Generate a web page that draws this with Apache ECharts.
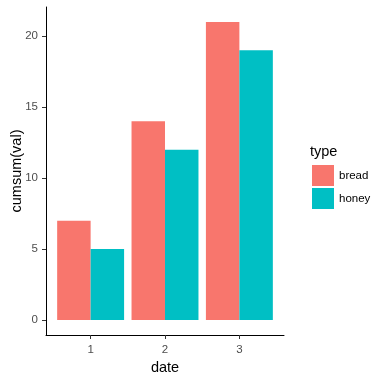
<!DOCTYPE html>
<html>
<head>
<meta charset="utf-8">
<script src="https://cdn.jsdelivr.net/npm/echarts@6/dist/echarts.min.js"></script>
<style>html,body{margin:0;padding:0;background:#fff;}#c{width:385px;height:380px;}</style>
</head>
<body>
<div id="c"></div>
<script>
const categories = [1, 2, 3];
const bread = [7, 14, 21];
const honey = [5, 12, 19];
const yTicks = [0, 5, 10, 15, 20];
const seriesNames = ['bread', 'honey'];
const colors = ['#F8766D', '#00BFC4'];

const gridLeft = 46, gridRight = 385 - 284, gridTop = 7, gridBottom = 380 - 335;
const xMin = 0.4, xMax = 3.6;
const plotW = 385 - gridLeft - gridRight;
const barW = plotW / (xMax - xMin) * 0.45;

const font = 'Liberation Sans, Arial, sans-serif';
const chart = echarts.init(document.getElementById('c'), null, {renderer: 'canvas'});
chart.setOption({
  animation: false,
  backgroundColor: '#fff',
  grid: {left: gridLeft, right: gridRight, top: gridTop, bottom: gridBottom, containLabel: false, outerBoundsMode: 'none'},
  title: {text: 'type', left: 305, top: 139, textStyle: {fontFamily: font, fontSize: 14.5, fontWeight: 'normal', color: '#000'}},
  legend: {
    orient: 'vertical', left: 307, top: 160, itemWidth: 22, itemHeight: 21, itemGap: 2,
    icon: 'rect', data: seriesNames,
    textStyle: {fontFamily: font, fontSize: 11.5, color: '#000'}
  },
  xAxis: {
    type: 'value', min: xMin, max: xMax,
    name: 'date', nameLocation: 'middle', nameGap: 24,
    nameTextStyle: {fontFamily: font, fontSize: 14.5, color: '#000'},
    axisLine: {show: true, onZero: false, lineStyle: {color: '#000', width: 1}},
    axisTick: {show: true, length: 4, customValues: categories, lineStyle: {color: '#333'}},
    axisLabel: {customValues: categories, margin: 9, fontFamily: font, fontSize: 11.5, color: '#4D4D4D'},
    splitLine: {show: false}
  },
  yAxis: {
    type: 'value', min: -1.05, max: 22.05,
    name: 'cumsum(val)', nameLocation: 'middle', nameGap: 22, nameRotate: 90, nameMoveOverlap: false,
    nameTextStyle: {fontFamily: font, fontSize: 14.5, color: '#000'},
    axisLine: {show: true, onZero: false, lineStyle: {color: '#000', width: 1}},
    axisTick: {show: true, length: 4, customValues: yTicks, lineStyle: {color: '#333'}},
    axisLabel: {customValues: yTicks, margin: 8, fontFamily: font, fontSize: 11.5, color: '#4D4D4D'},
    splitLine: {show: false}
  },
  series: [
    {name: seriesNames[0], type: 'bar', barWidth: barW, barGap: '0%', itemStyle: {color: colors[0]},
     data: categories.map((c, i) => [c, bread[i]])},
    {name: seriesNames[1], type: 'bar', barWidth: barW, barGap: '0%', itemStyle: {color: colors[1]},
     data: categories.map((c, i) => [c, honey[i]])}
  ]
});
</script>
</body>
</html>
